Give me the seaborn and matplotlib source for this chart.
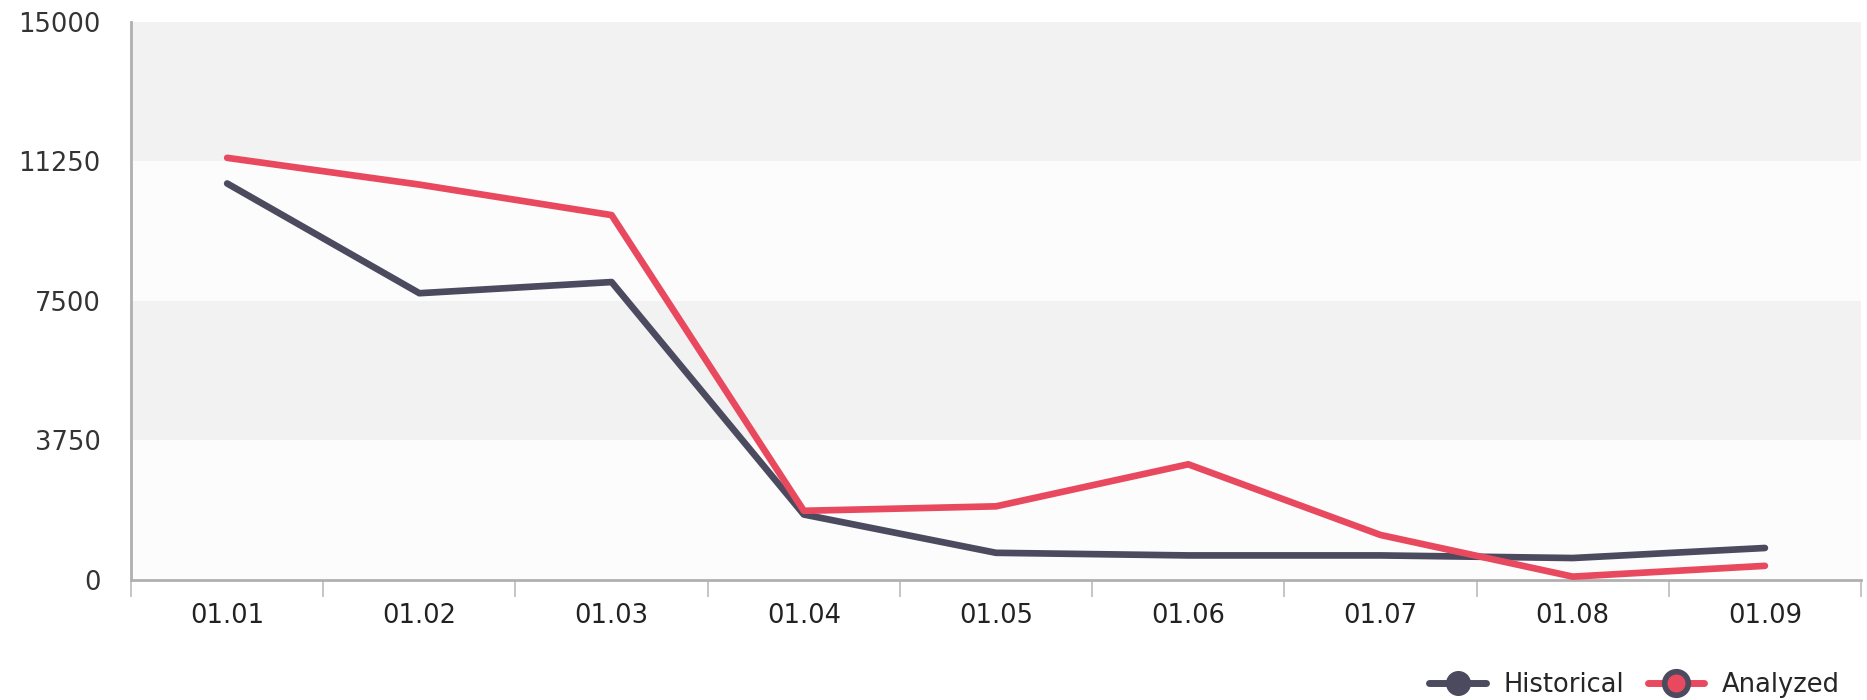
import pandas as pd
import matplotlib
matplotlib.use("Agg")
import matplotlib.pyplot as plt
import seaborn as sns
from matplotlib.lines import Line2D
import numpy as np

# =========================================
# data
# =========================================
dates = ["01.01", "01.02", "01.03", "01.04", "01.05", "01.06", "01.07", "01.08", "01.09"]
historical = [10650, 7700, 8000, 1750, 720, 650, 650, 580, 850]
analyzed = [11340, 10620, 9800, 1850, 1970, 3100, 1200, 80, 370]
y_ticks = [0, 3750, 7500, 11250, 15000]

df = pd.DataFrame({
    "date": dates * 2,
    "value": historical + analyzed,
    "series": ["Historical"] * len(dates) + ["Analyzed"] * len(dates),
})
df["x"] = df["date"].map({d: i for i, d in enumerate(dates)})

DARK = "#4b4a5e"
RED = "#e8495f"

sns.set_style("white")
plt.rcParams["font.family"] = ["DejaVu Sans"]

fig = plt.figure(figsize=(18.67, 7), dpi=100)
ax = fig.add_axes([0.0702, 0.172, 0.9266, 0.797])
ax.set_facecolor("#fcfcfc")

# alternating bands
for lo, hi in [(3750, 7500), (11250, 15000)]:
    ax.axhspan(lo, hi, color="#f2f2f2", zorder=0, lw=0)

sns.lineplot(
    data=df, x="x", y="value", hue="series",
    palette={"Historical": DARK, "Analyzed": RED},
    hue_order=["Historical", "Analyzed"],
    linewidth=4.8, ax=ax, legend=False, zorder=3,
)

ax.set_xlim(-0.5, len(dates) - 0.5)
ax.set_ylim(0, 15000)
ax.set_yticks(y_ticks)
ax.set_yticklabels([str(v) for v in y_ticks], fontsize=18.5, color="#333333")
ax.set_xticks(range(len(dates)))
ax.set_xticklabels(dates, fontsize=18.5, color="#222222")
ax.set_xticks(np.arange(-0.5, len(dates)), minor=True)
ax.tick_params(axis="x", which="major", length=0, pad=17)
ax.tick_params(axis="x", which="minor", bottom=True, length=12, color="#bbbbbb", width=1.2)
ax.tick_params(axis="y", length=0, pad=22)
ax.set_xlabel("")
ax.set_ylabel("")

for side in ["top", "right"]:
    ax.spines[side].set_visible(False)
for side in ["left", "bottom"]:
    ax.spines[side].set_color("#b0b0b0")
    ax.spines[side].set_linewidth(2)

handles = [
    Line2D([0], [0], color=DARK, lw=5, marker="o", markersize=17,
           markerfacecolor=DARK, markeredgecolor=DARK),
    Line2D([0], [0], color=RED, lw=5, marker="o", markersize=17,
           markerfacecolor=RED, markeredgecolor=DARK, markeredgewidth=4),
]
fig.legend(handles, ["Historical", "Analyzed"], loc="lower right",
           bbox_to_anchor=(0.998, -0.03), ncol=2, frameon=False,
           fontsize=18.5, handlelength=2.2, columnspacing=0.9, handletextpad=0.7)

fig.savefig("out.png", dpi=100)
